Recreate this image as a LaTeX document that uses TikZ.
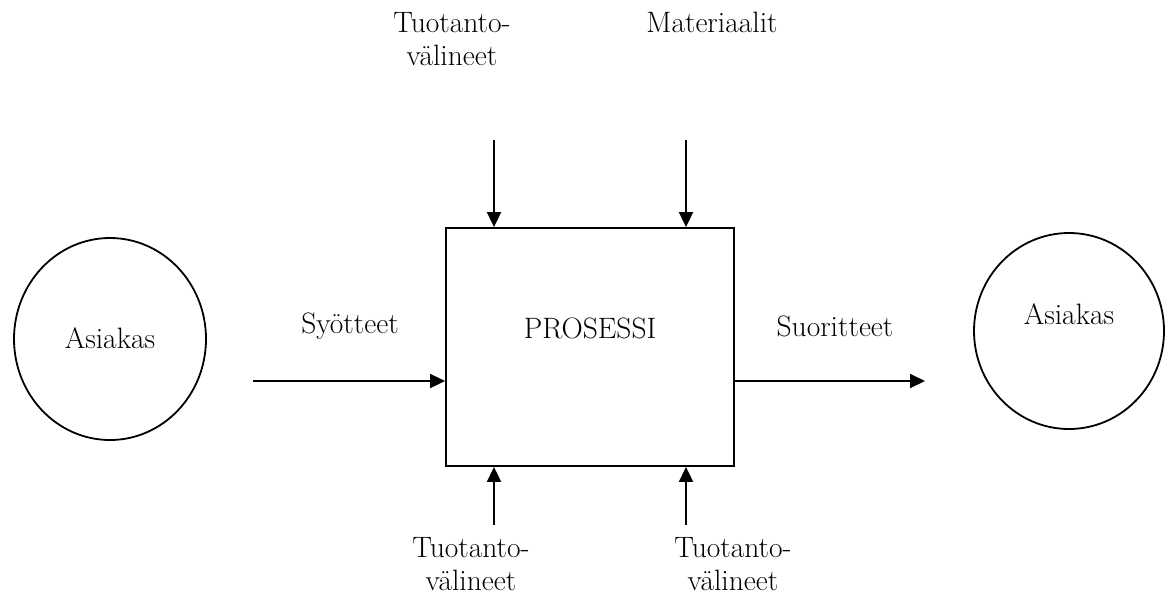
\documentclass[tikz,border=0pt]{standalone}
\usepackage{fontspec}
\usetikzlibrary{arrows.meta,shapes.geometric}
\tikzset{
  base/.style={line width=1.8pt},
  flow/.style={base, -{Triangle[length=15pt,width=14pt]}},
  lbl/.style={font=\fontsize{29.5}{33}\selectfont, align=center, inner sep=0pt},
  client/.style={base, draw, ellipse, inner sep=0pt},
}
\begin{document}
\begin{tikzpicture}[x=1pt, y=-1pt]
  \useasboundingbox (0,0) rectangle (1174,595);

  % customers on both sides
  \node[client, minimum width=192pt, minimum height=202pt] (cl) at (110,339) {};
  \node[lbl] (cltxt) at (110,338) {Asiakas};
  \node[client, minimum width=190pt, minimum height=196pt] (cr) at (1069,331) {};
  \node[lbl] (crtxt) at (1069,314) {Asiakas};

  % the process box
  \node[base, draw, rectangle, minimum width=288pt, minimum height=238pt, inner sep=0pt] (P) at (590,347) {};
  \node[lbl] (ptxt) at (590,328) {PROSESSI};

  % input and output
  \coordinate (inS) at (253,381);
  \coordinate (outE) at (925,381);
  \draw[flow] (inS) -- (inS -| P.west);
  \draw[flow] (outE -| P.east) -- (outE);
  \node[lbl] (syo) at (350,326) {Syötteet};
  \node[lbl] (suo) at (835,326) {Suoritteet};

  % resources from above
  \coordinate (t1) at (494,140);
  \coordinate (t2) at (686,140);
  \draw[flow] (t1) -- (t1 |- P.north);
  \draw[flow] (t2) -- (t2 |- P.north);
  \node[lbl] (tv1) at (452,39) {Tuotanto-\\välineet};
  \node[lbl] (mat) at (712,22) {Materiaalit};

  % resources from below
  \coordinate (b1) at (494,525);
  \coordinate (b2) at (686,525);
  \draw[flow] (b1) -- (b1 |- P.south);
  \draw[flow] (b2) -- (b2 |- P.south);
  \node[lbl] (tv2) at (471,564) {Tuotanto-\\välineet};
  \node[lbl] (tv3) at (733,564) {Tuotanto-\\välineet};
\end{tikzpicture}
\end{document}
